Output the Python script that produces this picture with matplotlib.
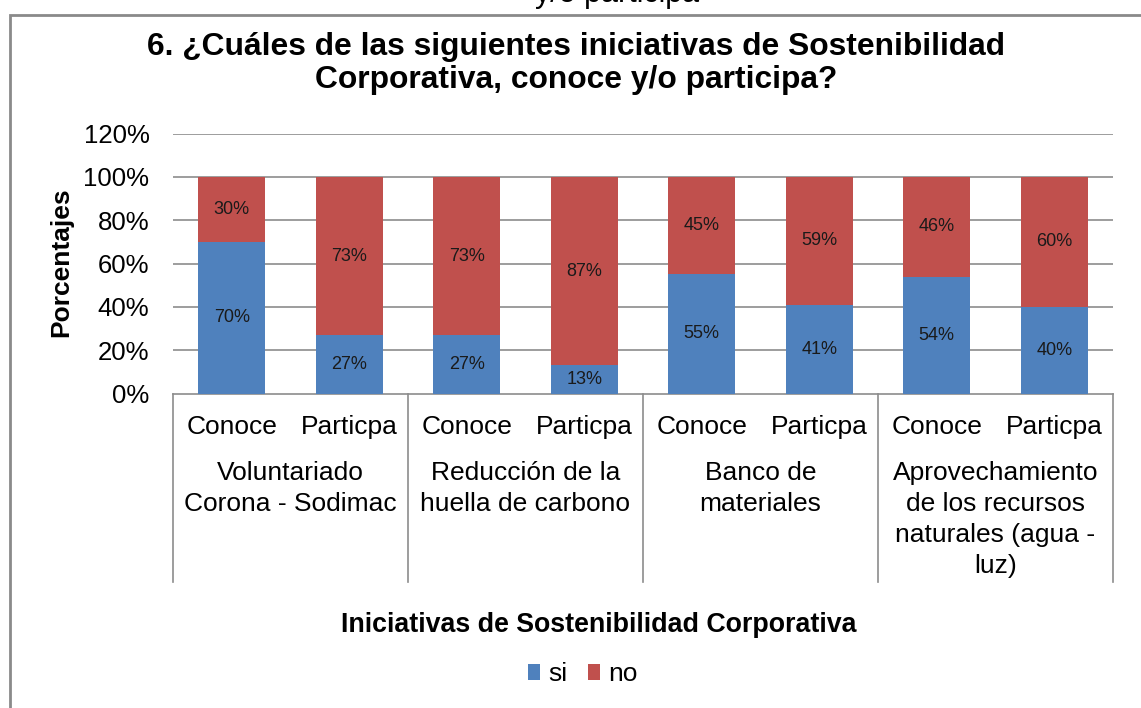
import matplotlib
matplotlib.use("Agg")
import matplotlib.pyplot as plt
from matplotlib.patches import Rectangle, Patch

plt.rcParams['font.family'] = ['Liberation Sans', 'DejaVu Sans']

sub_labels = ["Conoce", "Particpa"] * 4
group_labels = ["Voluntariado\nCorona - Sodimac",
                "Reducción de la\nhuella de carbono",
                "Banco de\nmateriales",
                "Aprovechamiento\nde los recursos\nnaturales (agua -\nluz)"]
si_vals = [70, 27, 27, 13, 55, 41, 54, 40]
no_vals = [30, 73, 73, 87, 45, 59, 46, 60]
y_ticks = [0, 20, 40, 60, 80, 100, 120]

blue = "#4F81BD"
red = "#C0504D"
grid_c = "#8C8C8C"

W, H = 1141, 708
fig = plt.figure(figsize=(W / 100, H / 100), dpi=100)

def fy(py):
    return 1 - py / H

# outer chart border
fig.patches.append(Rectangle((10 / W, -0.05), 1.2, 1 - 15 / H + 0.05, transform=fig.transFigure,
                             fill=False, edgecolor="#8A8A8A", linewidth=2))
# clipped fragment at the very top
fig.text(535 / W, fy(2), "y/o participa", fontsize=22, ha="left", va="baseline")

ax_top, ax_bot = 133.7, 393.5
ax = fig.add_axes([173 / W, fy(ax_bot), (1113 - 173) / W, (ax_bot - ax_top) / H])
x = [i + 0.5 for i in range(len(si_vals))]
bw = 0.57
ax.bar(x, si_vals, width=bw, color=blue, zorder=3)
ax.bar(x, no_vals, width=bw, bottom=si_vals, color=red, zorder=3)

for xi, s, n in zip(x, si_vals, no_vals):
    ax.text(xi, s / 2, f"{s}%", ha="center", va="center", fontsize=13, color="#1a1a1a", zorder=4)
    ax.text(xi, s + n / 2, f"{n}%", ha="center", va="center", fontsize=13, color="#1a1a1a", zorder=4)

ax.set_xlim(0, len(si_vals))
ax.set_ylim(0, 120)
ax.set_yticks(y_ticks)
ax.set_yticklabels([f"{t}%" for t in y_ticks], fontsize=18.5)
ax.tick_params(axis="y", length=0, pad=17)
ax.set_xticks([])
for t in y_ticks[1:]:
    ax.axhline(t, color=grid_c, linewidth=1.2, zorder=1)
for sp in ["top", "right", "left"]:
    ax.spines[sp].set_visible(False)
ax.spines["bottom"].set_color(grid_c)
ax.spines["bottom"].set_linewidth(1.2)

ah = ax_bot - ax_top
def ay(py):
    return (ax_bot - py) / ah

trans = ax.get_xaxis_transform()
for gx in range(0, len(si_vals) + 1, 2):
    ax.plot([gx, gx], [0, ay(582)], transform=trans, color=grid_c, linewidth=1.2, clip_on=False)
for xi, lab in zip(x, sub_labels):
    ax.text(xi, ay(434), lab, transform=trans, ha="center", va="baseline", fontsize=19)
for gi, lab in enumerate(group_labels):
    ax.text(2 * gi + 1, ay(461), lab, transform=trans, ha="center", va="top",
            fontsize=19, linespacing=1.37)

ax.set_ylabel("Porcentajes", fontsize=19, fontweight="bold")
ax.yaxis.set_label_coords((73 - 173) / (1113 - 173), ay(262))

fig.text(576 / W, fy(55), "6. ¿Cuáles de las siguientes iniciativas de Sostenibilidad",
         ha="center", va="baseline", fontsize=22.9, fontweight="bold")
fig.text(576 / W, fy(88), "Corporativa, conoce y/o participa?",
         ha="center", va="baseline", fontsize=22.9, fontweight="bold")
fig.text(599 / W, fy(632), "Iniciativas de Sostenibilidad Corporativa",
         ha="center", va="baseline", fontsize=19.3, fontweight="bold")

handles = [Patch(facecolor=blue, label="si"), Patch(facecolor=red, label="no")]
fig.legend(handles=handles, loc="center", bbox_to_anchor=(583 / W, fy(674)), ncol=2,
           frameon=False, fontsize=19, handlelength=0.45, handleheight=0.55,
           handletextpad=0.3, columnspacing=0.8, borderpad=0)

fig.savefig("out.png", dpi=100)
